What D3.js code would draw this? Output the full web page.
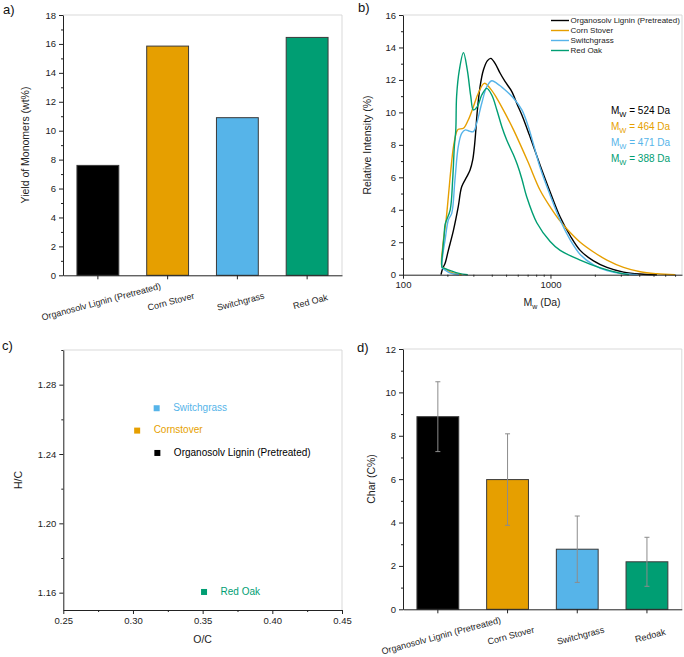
<!DOCTYPE html>
<html><head><meta charset="utf-8">
<script src="https://cdn.jsdelivr.net/npm/d3@7"></script>
<style>
body{margin:0;background:#fff;}
svg text{font-family:"Liberation Sans",Arial,sans-serif;}
</style></head>
<body><svg id="c" width="684" height="657"></svg>
<script>
// ---------- data ----------
const colors = ["#000000", "#E69F00", "#56B4E9", "#009E73"];

// a) yield of monomers
const catsA = ["Organosolv Lignin (Pretreated)", "Corn Stover", "Switchgrass", "Red Oak"];
const yieldVals = [7.6, 15.85, 10.9, 16.45];
const ticksA = [0, 2, 4, 6, 8, 10, 12, 14, 16, 18];

// b) molecular weight distributions [Mw (Da), relative intensity %]
const seriesNamesB = ["Organosolv Lignin (Pretreated)", "Corn Stover", "Switchgrass", "Red Oak"];
const mwLabels = ["524", "464", "471", "388"];
const curveBlack = [[181,0],[186,0.4],[193,0.7],[203,1.5],[220,2.75],[237,4.19],[250,5.42],[271,6.04],[285,6.45],[297,7.07],[305,7.89],[312,8.92],[318,9.94],[333,11.58],[351,12.61],[374,13.19],[394,13.33],[421,13.02],[456,12.41],[493,11.89],[547,11.28],[597,10.46],[640,9.84],[720,8.6],[851,6.75],[995,5.1],[1164,3.55],[1361,2.4],[1591,1.5],[1959,0.85],[2415,0.45],[3131,0.16],[4064,0.04],[5277,0]];
const curveCorn = [[250,0],[215,0.12],[195,0.35],[184,0.5],[186,1.73],[196,3.37],[203,4.8],[211,6.45],[220,7.89],[231,8.81],[237,8.96],[257,9.02],[277,9.53],[300,10.35],[324,11.18],[356,11.79],[390,11.48],[433,10.87],[493,9.94],[562,8.92],[700,7.0],[851,5.2],[1000,4.15],[1164,3.3],[1361,2.6],[1591,2.0],[1959,1.4],[2415,0.9],[3131,0.45],[4064,0.18],[5277,0.06],[7000,0]];
const curveSwitch = [[240,0],[210,0.1],[192,0.3],[184,0.45],[186,1.2],[193,2.14],[203,3.37],[214,3.78],[225,5.83],[237,7.89],[250,8.71],[265,8.92],[280,8.85],[300,8.81],[316,9.33],[342,10.56],[370,11.58],[400,11.95],[433,11.79],[493,11.38],[562,10.87],[640,10.15],[708,9.12],[851,6.6],[995,4.9],[1164,3.35],[1361,2.15],[1591,1.25],[1959,0.6],[2415,0.25],[3131,0.06],[3900,0]];
const curveOak = [[275,0],[240,0.08],[210,0.25],[190,0.4],[184,0.45],[186,1.5],[190,2.4],[193,3.1],[209,4.0],[217,5.8],[223,7.9],[228,8.9],[231,11.0],[241,12.6],[257,13.68],[273,12.6],[288,11.0],[300,10.15],[319,10.35],[342,11.07],[370,11.48],[400,11.07],[433,10.15],[468,9.12],[505,8.3],[560,7.4],[595,6.8],[640,5.9],[690,4.8],[808,3.2],[995,2.05],[1164,1.5],[1591,0.9],[2180,0.42],[2950,0.1],[3400,0]];
const curvesB = [curveBlack, curveCorn, curveSwitch, curveOak];
const ticksB = [0, 2, 4, 6, 8, 10, 12, 14, 16];

// c) van Krevelen
const namesC = ["Switchgrass", "Cornstover", "Organosolv Lignin (Pretreated)", "Red Oak"];
const ocVals = [0.317, 0.303, 0.3175, 0.351];
const hcVals = [1.2664, 1.2535, 1.2406, 1.1604];
const colorsC = ["#56B4E9", "#E69F00", "#000000", "#009E73"];
const ticksCx = [0.25, 0.30, 0.35, 0.40, 0.45];
const ticksCy = [1.16, 1.20, 1.24, 1.28];

// d) char
const catsD = ["Organosolv Lignin (Pretreated)", "Corn Stover", "Switchgrass", "Redoak"];
const charVals = [8.88, 5.98, 2.77, 2.19];
const charErr = [1.61, 2.11, 1.53, 1.13];
const ticksD = [0, 2, 4, 6, 8, 10, 12];

// ---------- helpers ----------
const svg = d3.select("#c");
const TICKFS = 9.5, TITLEFS = 10.5;

function frame(x0, x1, y0, y1) {
  svg.append("path").attr("d", `M${x0},${y0}H${x1}V${y1}`)
    .attr("fill", "none").attr("stroke", "#d9d9d9").attr("stroke-width", 1);
}
function styleAxis(g) {
  g.selectAll("path,line").attr("stroke", "#222").attr("stroke-width", 1);
  g.selectAll("text").attr("font-size", TICKFS).attr("fill", "#222")
    .attr("font-family", "Liberation Sans, Arial, sans-serif");
}
function yAxis(scale, x, major, minor, fmt) {
  const g = svg.append("g").attr("transform", `translate(${x},0)`)
    .call(d3.axisLeft(scale).tickValues(major).tickSize(4).tickSizeOuter(0).tickPadding(3).tickFormat(fmt || (d => d)));
  styleAxis(g);
  const m = svg.append("g").attr("transform", `translate(${x},0)`)
    .call(d3.axisLeft(scale).tickValues(minor).tickSize(2).tickFormat(""));
  m.select(".domain").remove();
  styleAxis(m);
}
function panelLabel(t, x, y) {
  svg.append("text").attr("x", x).attr("y", y).attr("font-size", 13).attr("fill", "#111").text(t);
}
function yTitle(t, x, y) {
  svg.append("text").attr("transform", `translate(${x},${y}) rotate(-90)`)
    .attr("text-anchor", "middle").attr("dominant-baseline", "middle")
    .attr("font-size", TITLEFS).attr("fill", "#222").text(t);
}
function catXAxis(scale, y, cats) {
  const g = svg.append("g").attr("transform", `translate(0,${y})`)
    .call(d3.axisBottom(scale).tickSize(4).tickSizeOuter(0).tickFormat(""));
  styleAxis(g);
  cats.forEach(c => {
    svg.append("text")
      .attr("transform", `translate(${scale(c) + scale.bandwidth() / 2 + 3.5},${y + 27}) rotate(-15)`)
      .attr("text-anchor", "middle").attr("dominant-baseline", "middle")
      .attr("font-size", 9).attr("fill", "#222").text(c);
  });
}

// ---------- panel a ----------
{
  const x = d3.scaleBand().domain(catsA).range([63, 342]).paddingInner(0.4).paddingOuter(0.2);
  const y = d3.scaleLinear().domain([0, 18]).range([275.3, 15]);
  frame(63, 342, 15, 275.3);
  svg.append("g").selectAll("rect").data(catsA).join("rect")
    .attr("x", d => x(d)).attr("width", x.bandwidth())
    .attr("y", (d, i) => y(yieldVals[i])).attr("height", (d, i) => y(0) - y(yieldVals[i]))
    .attr("fill", (d, i) => colors[i]).attr("stroke", "#3a3a3a").attr("stroke-width", 1);
  yAxis(y, 63, ticksA, d3.range(1, 18, 2));
  catXAxis(x, 275.3, catsA);
  yTitle("Yield of Monomers (wt%)", 26, 145);
  panelLabel("a)", 3, 14);
}

// ---------- panel b ----------
{
  const x = d3.scaleLog().domain([100, 7800]).range([403, 682]);
  const y = d3.scaleLinear().domain([0, 16]).range([274.7, 15]);
  frame(403, 682, 15, 274.7);
  const line = d3.line().x(d => x(d[0])).y(d => y(d[1])).curve(d3.curveCatmullRom.alpha(0.5));
  svg.append("g").selectAll("path").data(curvesB).join("path")
    .attr("d", line).attr("fill", "none")
    .attr("stroke", (d, i) => colors[i]).attr("stroke-width", 1.4);
  yAxis(y, 403, ticksB, d3.range(1, 16, 2));
  const gx = svg.append("g").attr("transform", "translate(0,274.7)")
    .call(d3.axisBottom(x).tickValues([100, 1000]).tickSize(4).tickSizeOuter(0).tickPadding(3).tickFormat(d3.format("d")));
  styleAxis(gx);
  const minorB = [200,300,400,500,600,700,800,900,2000,3000,4000,5000,6000,7000];
  const gm = svg.append("g").attr("transform", "translate(0,274.7)")
    .call(d3.axisBottom(x).tickValues(minorB).tickSize(2).tickFormat(""));
  gm.select(".domain").remove();
  styleAxis(gm);
  // x title
  const xt = svg.append("text").attr("x", 542).attr("y", 306).attr("text-anchor", "middle")
    .attr("font-size", TITLEFS).attr("fill", "#222");
  xt.append("tspan").text("M");
  xt.append("tspan").attr("font-size", 7).attr("dy", 2.5).text("w");
  xt.append("tspan").attr("dy", -2.5).text(" (Da)");
  yTitle("Relative Intensity (%)", 368.5, 145);
  // legend
  seriesNamesB.forEach((n, i) => {
    const yy = 20.5 + i * 10;
    svg.append("line").attr("x1", 551).attr("x2", 569).attr("y1", yy).attr("y2", yy)
      .attr("stroke", colors[i]).attr("stroke-width", 1.4);
    svg.append("text").attr("x", 570.5).attr("y", yy).attr("dominant-baseline", "middle")
      .attr("font-size", 8).attr("fill", "#222").text(n);
  });
  // Mw annotations
  mwLabels.forEach((v, i) => {
    const t = svg.append("text").attr("x", 611).attr("y", 114 + i * 16)
      .attr("font-size", 10).attr("fill", colors[i]);
    t.append("tspan").text("M");
    t.append("tspan").attr("font-size", 7.5).attr("dy", 2.5).text("W");
    t.append("tspan").attr("dy", -2.5).text(" = " + v + " Da");
  });
  panelLabel("b)", 358, 12);
}

// ---------- panel c ----------
{
  const x = d3.scaleLinear().domain([0.25, 0.45]).range([63.3, 342]);
  const y = d3.scaleLinear().domain([1.15, 1.30]).range([610, 350]);
  frame(63.3, 342, 350, 610);
  yAxis(y, 63.3, ticksCy, [1.18, 1.22, 1.26, 1.30], d3.format(".2f"));
  const gx = svg.append("g").attr("transform", "translate(0,610)")
    .call(d3.axisBottom(x).tickValues(ticksCx).tickSize(4).tickSizeOuter(0).tickPadding(3).tickFormat(d3.format(".2f")));
  styleAxis(gx);
  const gm = svg.append("g").attr("transform", "translate(0,610)")
    .call(d3.axisBottom(x).tickValues([0.275, 0.325, 0.375, 0.425]).tickSize(2).tickFormat(""));
  gm.select(".domain").remove();
  styleAxis(gm);
  namesC.forEach((n, i) => {
    const px = x(ocVals[i]), py = y(hcVals[i]);
    svg.append("rect").attr("x", px - 3).attr("y", py - 3).attr("width", 6).attr("height", 6)
      .attr("fill", colorsC[i]);
    svg.append("text").attr("x", px + 16.5).attr("y", py).attr("dominant-baseline", "middle")
      .attr("font-size", 10).attr("fill", colorsC[i]).text(n);
  });
  svg.append("text").attr("x", 202.6).attr("y", 643).attr("text-anchor", "middle")
    .attr("font-size", TITLEFS).attr("fill", "#222").text("O/C");
  yTitle("H/C", 19, 480);
  panelLabel("c)", 2, 350);
}

// ---------- panel d ----------
{
  const x = d3.scaleBand().domain(catsD).range([403, 681.8]).paddingInner(0.4).paddingOuter(0.2);
  const y = d3.scaleLinear().domain([0, 12]).range([609.3, 349]);
  frame(403, 681.8, 349, 609.3);
  svg.append("g").selectAll("rect").data(catsD).join("rect")
    .attr("x", d => x(d)).attr("width", x.bandwidth())
    .attr("y", (d, i) => y(charVals[i])).attr("height", (d, i) => y(0) - y(charVals[i]))
    .attr("fill", (d, i) => colors[i]).attr("stroke", "#3a3a3a").attr("stroke-width", 1);
  const eb = svg.append("g").attr("stroke", "#8c8c8c").attr("stroke-width", 1);
  catsD.forEach((c, i) => {
    const cx = x(c) + x.bandwidth() / 2;
    const y1 = y(charVals[i] + charErr[i]), y2 = y(charVals[i] - charErr[i]);
    eb.append("line").attr("x1", cx).attr("x2", cx).attr("y1", y1).attr("y2", y2);
    eb.append("line").attr("x1", cx - 2.5).attr("x2", cx + 2.5).attr("y1", y1).attr("y2", y1);
    eb.append("line").attr("x1", cx - 2.5).attr("x2", cx + 2.5).attr("y1", y2).attr("y2", y2);
  });
  yAxis(y, 403, ticksD, d3.range(1, 12, 2));
  catXAxis(x, 609.3, catsD);
  yTitle("Char (C%)", 372, 479);
  panelLabel("d)", 357, 352);
}
</script></body></html>
